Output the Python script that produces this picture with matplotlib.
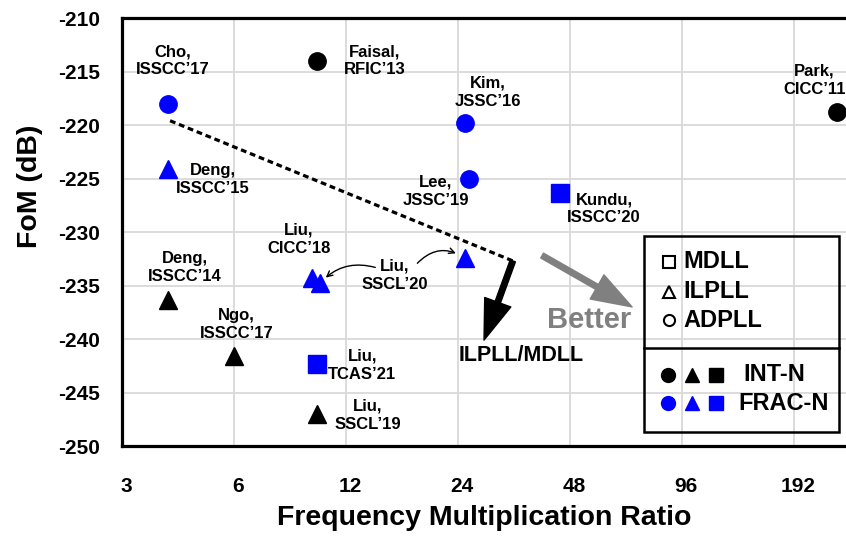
import matplotlib
matplotlib.use("Agg")
import matplotlib.pyplot as plt
from matplotlib.patches import Rectangle
from matplotlib.lines import Line2D
from matplotlib.transforms import ScaledTranslation

plt.rcParams['font.family'] = ['Liberation Sans', 'DejaVu Sans']
plt.rcParams['font.weight'] = 'bold'

BLUE = '#0000ff'

# published designs: label, multiplication ratio, FoM, marker, color
labels = ['Cho,\nISSCC\u201917', 'Faisal,\nRFIC\u201913', 'Deng,\nISSCC\u201915', 'Deng,\nISSCC\u201914',
          'Ngo,\nISSCC\u201917', 'Liu,\nCICC\u201918', 'Liu,\nTCAS\u201921', 'Liu,\nSSCL\u201919',
          'Kim,\nJSSC\u201916', 'Lee,\nJSSC\u201919', 'Kundu,\nISSCC\u201920', 'Park,\nCICC\u201911']
ratio = [4.0, 10.0, 4.0, 4.0, 6.0, 9.7, 10.0, 10.0, 25.0, 25.7, 45.0, 250.0]
fom = [-218.0, -214.0, -224.1, -236.4, -241.6, -234.3, -242.3, -247.0, -219.8, -225.0, -226.4, -218.8]
kind = ['o', 'o', '^', '^', '^', '^', 's', '^', 'o', 'o', 's', 'o']
frac = [True, False, True, False, False, True, True, False, True, True, True, False]
# label offsets (points) from each marker
label_off = [(3, 31), (42, 0), (32, -8), (12, 24), (2, 23), (-9, 28), (33, -1), (37, -1),
             (17, 22), (-24, -9), (32, -11), (-16, 23)]

# Liu, SSCL'20 has two entries
sscl20_ratio = [10.2, 25.0]
sscl20_fom = [-234.8, -232.4]

# ILPLL/MDLL trend and arrows
trend_x = [4.04, 33.7]
trend_y = [-219.6, -232.7]
ilpll_tip = (28.2, -240.1)
better_start = (40.4, -232.2)
better_tip = (70.5, -237.0)

xticks = [3, 6, 12, 24, 48, 96, 192]
yticks = list(range(-250, -209, 5))

fig = plt.figure(figsize=(8.46, 5.44), dpi=100)
ax = fig.add_axes([0.1442, 0.1801, 0.8558, 0.7868])
ax.set_xscale('log', base=2)
ax.set_xlim(3, 265)
ax.set_ylim(-250, -210)
ax.set_xticks(xticks)
ax.set_xticklabels([str(t) for t in xticks])
ax.set_yticks(yticks)
ax.set_yticklabels([str(t) for t in yticks])
ax.minorticks_off()
ax.tick_params(length=0, labelsize=15)
ax.tick_params(axis='y', pad=16)
ax.tick_params(axis='x', pad=22)
shift = ScaledTranslation(0.04, 0, fig.dpi_scale_trans)
for t in ax.get_xticklabels():
    t.set_transform(t.get_transform() + shift)
ax.grid(True, color='#d9d9d9', lw=1.3)
ax.set_axisbelow(True)
for s in ['left', 'bottom', 'top']:
    ax.spines[s].set_linewidth(2.3)
ax.spines['right'].set_visible(False)

ax.set_xlabel('Frequency Multiplication Ratio', fontsize=20.5, fontweight='bold')
ax.set_ylabel('FoM (dB)', fontsize=20.5, fontweight='bold')
ax.xaxis.set_label_coords(0.5, -0.138)
ax.yaxis.set_label_coords(-0.109, 0.607)

for lab, x, y, m, f, off in zip(labels, ratio, fom, kind, frac, label_off):
    ax.plot(x, y, marker=m, ms=12.5, color=BLUE if f else 'black', ls='none', clip_on=False, zorder=4)
    ax.annotate(lab, (x, y), xytext=off, textcoords='offset points', ha='center', va='center',
                fontsize=12, fontweight='bold', linespacing=1.25)

ax.plot(sscl20_ratio, sscl20_fom, marker='^', ms=12.5, color=BLUE, ls='none', zorder=4)
ax.annotate('Liu,\nSSCL\u201920', (sscl20_ratio[0], sscl20_fom[0]), xytext=(54, 6),
            textcoords='offset points', ha='center', va='center', fontsize=12, fontweight='bold',
            linespacing=1.25)
ax.annotate('', (sscl20_ratio[0], sscl20_fom[0]), xytext=(40, 11.5), textcoords='offset points',
            arrowprops=dict(arrowstyle='->', lw=1, color='black', shrinkA=0, shrinkB=6,
                            connectionstyle='arc3,rad=0.3'))
ax.annotate('', (sscl20_ratio[1], sscl20_fom[1]), xytext=(-34, -4), textcoords='offset points',
            arrowprops=dict(arrowstyle='->', lw=1, color='black', shrinkA=0, shrinkB=7,
                            connectionstyle='arc3,rad=-0.4'))

# trend line and arrows
ax.plot(trend_x, trend_y, color='black', lw=2.3, ls=(0, (1.8, 1.2)), zorder=3)
ax.annotate('', ilpll_tip, xytext=(trend_x[1], trend_y[1]),
            arrowprops=dict(arrowstyle='simple,head_width=1.0,head_length=1.45,tail_width=0.2',
                            mutation_scale=20, color='black', shrinkA=0, shrinkB=0))
ax.text(35.5, -240.6, 'ILPLL/MDLL', ha='center', va='top', fontsize=15.5, fontweight='bold')
ax.annotate('', better_tip, xytext=better_start,
            arrowprops=dict(arrowstyle='simple,head_width=1.0,head_length=1.45,tail_width=0.2',
                            mutation_scale=20, color='#808080', shrinkA=0, shrinkB=0))
ax.text(54, -238.2, 'Better', ha='center', va='center', fontsize=21, fontweight='bold', color='#808080')

# legend box
T = ax.transAxes
ax.add_patch(Rectangle((0.721, 0.0327), 0.269, 0.458, transform=T, fill=False, lw=1.8,
                       ec='black', zorder=5))
ax.add_line(Line2D([0.721, 0.990], [0.229, 0.229], transform=T, color='black', lw=1.8, zorder=5))
for yy, m, name in [(0.430, 's', 'MDLL'), (0.360, '^', 'ILPLL'), (0.294, 'o', 'ADPLL')]:
    ax.plot(0.756, yy, marker=m, ms=8, mfc='white', mec='black', mew=1.5, transform=T, zorder=6)
    ax.text(0.775, yy, name, transform=T, ha='left', va='center', fontsize=17, fontweight='bold')
for yy, c, name, tx in [(0.166, 'black', 'INT-N', 0.858), (0.100, BLUE, 'FRAC-N', 0.852)]:
    for xx, m in zip([0.754, 0.787, 0.820], ['o', '^', 's']):
        ax.plot(xx, yy, marker=m, ms=10, color=c, transform=T, zorder=6)
    ax.text(tx, yy, name, transform=T, ha='left', va='center', fontsize=17, fontweight='bold')

fig.savefig('out.png', dpi=100)
